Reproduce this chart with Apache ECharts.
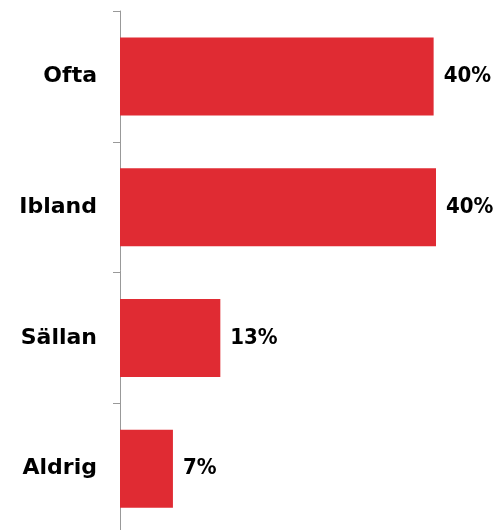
<!DOCTYPE html>
<html>
<head>
<meta charset="utf-8">
<script src="https://cdn.jsdelivr.net/npm/echarts@6/dist/echarts.min.js"></script>
<style>
  html, body { margin: 0; padding: 0; background: #fff; }
  #main { width: 499px; height: 530px; }
</style>
</head>
<body>
<div id="main"></div>
<script>
const categories = ['Ofta', 'Ibland', 'Sällan', 'Aldrig']
const values = [39.7, 40.0, 12.7, 6.7]
const valueLabels = ['40%', '40%', '13%', '7%']

const chart = echarts.init(document.getElementById('main'))

chart.setOption({
  animation: false,
  grid: { left: 120, top: 11, width: 316, height: 523, outerBoundsMode: 'none' },
  xAxis: {
    type: 'value',
    min: 0,
    max: 40,
    show: false
  },
  yAxis: {
    type: 'category',
    data: categories,
    inverse: true,
    axisLine: { show: true, lineStyle: { color: '#999', width: 1 } },
    axisTick: { show: true, length: 7, lineStyle: { color: '#999' } },
    axisLabel: {
      margin: 23,
      color: '#000',
      fontFamily: '"DejaVu Sans", sans-serif',
      fontWeight: 'bold',
      fontSize: 22
    }
  },
  series: [{
    type: 'bar',
    data: values,
    barWidth: 78,
    itemStyle: { color: '#e02b33' },
    label: {
      show: true,
      position: 'right',
      distance: 10,
      color: '#000',
      fontFamily: '"DejaVu Sans Condensed", "DejaVu Sans", sans-serif',
      fontWeight: 'bold',
      fontSize: 22,
      formatter: p => valueLabels[p.dataIndex]
    }
  }]
})
</script>
</body>
</html>
